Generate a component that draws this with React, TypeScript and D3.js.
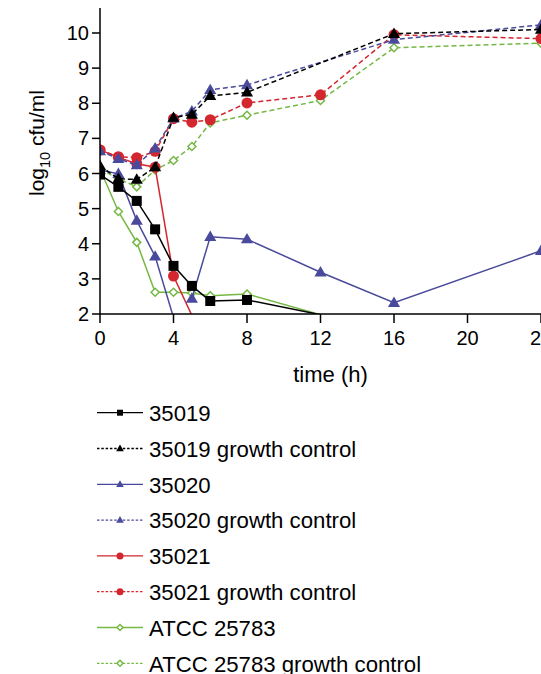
import React from "react";
import * as d3 from "d3";

const times = [0, 1, 2, 3, 4, 5, 6, 8, 12, 16, 24];
const xTicks = [0, 4, 8, 12, 16, 20, 24];
const yTicks = [2, 3, 4, 5, 6, 7, 8, 9, 10];

const s35019 = [5.97, 5.62, 5.22, 4.41, 3.37, 2.8, 2.37, 2.4, 1.98, null, null];
const s35019gc = [6.22, 5.85, 5.83, 6.18, 7.59, 7.68, 8.21, 8.31, null, 9.98, 10.1];
const s35020 = [6.1, 5.99, 4.66, 3.64, 1.9, 2.44, 4.2, 4.13, 3.19, 2.32, 3.8];
const s35020gc = [6.64, 6.42, 6.24, 6.72, 7.57, 7.77, 8.38, 8.52, null, 9.81, 10.23];
const s35021 = [6.67, 6.46, 6.28, 6.18, 3.08, 1.96, null, null, null, null, null];
const s35021gc = [6.67, 6.48, 6.45, 6.63, 7.56, 7.46, 7.53, 8.01, 8.24, 9.95, 9.84];
const sAtcc = [6.13, 4.92, 4.04, 2.62, 2.62, 2.6, 2.52, 2.57, 1.98, null, null];
const sAtccGc = [6.13, 5.85, 5.62, 6.1, 6.37, 6.77, 7.44, 7.66, 8.08, 9.58, 9.71];

const labels = [
  "35019",
  "35019 growth control",
  "35020",
  "35020 growth control",
  "35021",
  "35021 growth control",
  "ATCC 25783",
  "ATCC 25783 growth control",
];

type Marker = "square" | "triangle" | "circle" | "diamond";
interface Series {
  name: string;
  values: (number | null)[];
  color: string;
  dashed: boolean;
  marker: Marker;
  breakAfter?: number;
}

const BLACK = "#000000";
const BLUE = "#4a4a9c";
const RED = "#d3262e";
const GREEN = "#74b843";

const series: Series[] = [
  { name: labels[0], values: s35019, color: BLACK, dashed: false, marker: "square" },
  { name: labels[1], values: s35019gc, color: BLACK, dashed: true, marker: "triangle" },
  { name: labels[2], values: s35020, color: BLUE, dashed: false, marker: "triangle", breakAfter: 4 },
  { name: labels[3], values: s35020gc, color: BLUE, dashed: true, marker: "triangle" },
  { name: labels[4], values: s35021, color: RED, dashed: false, marker: "circle" },
  { name: labels[5], values: s35021gc, color: RED, dashed: true, marker: "circle" },
  { name: labels[6], values: sAtcc, color: GREEN, dashed: false, marker: "diamond" },
  { name: labels[7], values: sAtccGc, color: GREEN, dashed: true, marker: "diamond" },
];

const FONT = "'Liberation Sans', Arial, sans-serif";

function MarkerShape({ type, x, y, color, size }: { type: Marker; x: number; y: number; color: string; size: number }) {
  if (type === "square") {
    return <rect x={x - size / 2} y={y - size / 2} width={size} height={size} fill={color} />;
  }
  if (type === "triangle") {
    const h = size * 0.95;
    const w = size * 1.1;
    const p = `${x},${y - h * 0.6} ${x + w / 2},${y + h * 0.4} ${x - w / 2},${y + h * 0.4}`;
    return <polygon points={p} fill={color} />;
  }
  if (type === "circle") {
    return <circle cx={x} cy={y} r={size / 2} fill={color} />;
  }
  const r = size / 2;
  const p = `${x},${y - r} ${x + r},${y} ${x},${y + r} ${x - r},${y}`;
  return <polygon points={p} fill="#ffffff" stroke={color} strokeWidth={1.5} />;
}

export default function App() {
  const W = 541;
  const H = 674;
  const x = d3.scaleLinear().domain([0, 24]).range([100, 541]);
  const y = d3.scaleLinear().domain([2, 10]).range([314, 33]);

  const line = d3
    .line<[number, number]>()
    .x((d) => x(d[0]))
    .y((d) => y(d[1]));

  const markerSize: Record<Marker, number> = { square: 10, triangle: 11, circle: 11, diamond: 8 };
  const legendMarkerSize: Record<Marker, number> = { square: 6, triangle: 7, circle: 7, diamond: 6 };

  const drawOrder = [...series].reverse();

  const legendY0 = 412.7;
  const legendStep = 35.8;

  return (
    <svg
      width={W}
      height={H}
      style={{ position: "absolute", left: 0, top: 0, background: "#fff" }}
      fontFamily={FONT}
    >
      <defs>
        <clipPath id="plotClip">
          <rect x={100} y={0} width={460} height={314} />
        </clipPath>
      </defs>

      {/* series lines */}
      <g clipPath="url(#plotClip)">
        {drawOrder.map((s) => {
          const segs: [number, number][][] = [[]];
          s.values.forEach((v, i) => {
            if (v !== null) segs[segs.length - 1].push([times[i], v]);
            if (s.breakAfter === i) segs.push([]);
          });
          return (
            <g key={s.name}>
              {segs.map((seg, k) =>
                seg.length > 1 ? (
                  <path
                    key={k}
                    d={line(seg) || ""}
                    fill="none"
                    stroke={s.color}
                    strokeWidth={1.5}
                    strokeDasharray={s.dashed ? "5,3" : undefined}
                  />
                ) : null
              )}
              {s.values.map((v, i) =>
                v !== null && v >= 2 ? (
                  <MarkerShape key={i} type={s.marker} x={x(times[i])} y={y(v)} color={s.color} size={markerSize[s.marker]} />
                ) : null
              )}
            </g>
          );
        })}
      </g>

      {/* axes */}
      <line x1={100} x2={100} y1={8} y2={314} stroke="#000" strokeWidth={1.5} />
      <line x1={100} x2={W} y1={314} y2={314} stroke="#000" strokeWidth={1.5} />
      {yTicks.map((t) => (
        <g key={t}>
          <line x1={92} x2={100} y1={y(t)} y2={y(t)} stroke="#000" strokeWidth={1.5} />
          <text x={89} y={y(t)} dy="0.35em" textAnchor="end" fontSize={20} fill="#000">
            {t}
          </text>
        </g>
      ))}
      {xTicks.map((t) => (
        <g key={t}>
          <line x1={x(t)} x2={x(t)} y1={314} y2={323} stroke="#000" strokeWidth={1.5} />
          <text x={x(t)} y={345} textAnchor="middle" fontSize={20} fill="#000">
            {t}
          </text>
        </g>
      ))}
      <text x={330.5} y={381.5} textAnchor="middle" fontSize={22} fill="#000">
        time (h)
      </text>
      <text transform="translate(44,143) rotate(-90)" textAnchor="middle" fontSize={21} fill="#000">
        log
        <tspan fontSize={14.5} dy={6}>
          10
        </tspan>
        <tspan dy={-6}> cfu/ml</tspan>
      </text>

      {/* legend */}
      {series.map((s, i) => {
        const ly = legendY0 + i * legendStep;
        return (
          <g key={s.name}>
            <line
              x1={97}
              x2={143}
              y1={ly}
              y2={ly}
              stroke={s.color}
              strokeWidth={1.3}
              strokeDasharray={s.dashed ? "2.5,1.8" : undefined}
            />
            <MarkerShape type={s.marker} x={120} y={ly} color={s.color} size={legendMarkerSize[s.marker]} />
            <text x={149} y={ly + 8.3} fontSize={22.2} fill="#000">
              {s.name}
            </text>
          </g>
        );
      })}
    </svg>
  );
}
